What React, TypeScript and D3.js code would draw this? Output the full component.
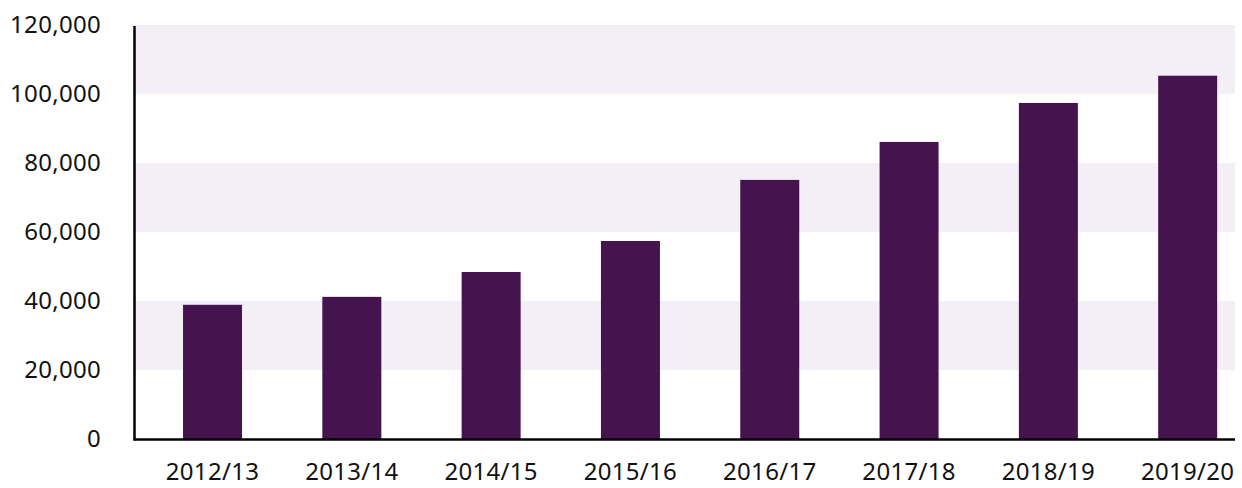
import React from "react";
import * as d3 from "d3";

const categories = ["2012/13", "2013/14", "2014/15", "2015/16", "2016/17", "2017/18", "2018/19", "2019/20"];
const values = [38900, 41200, 48400, 57400, 75100, 86100, 97400, 105300];
const yTicks = [0, 20000, 40000, 60000, 80000, 100000, 120000];

const W = 1242;
const H = 488;
const plotLeft = 135;
const plotRight = 1235;

export default function App() {
  const x = d3.scaleBand<string>().domain(categories).range([142.9, 1257.3]).paddingInner(0.5765).paddingOuter(0.288);
  const y = d3.scaleLinear().domain([0, 120000]).range([439, 25]);
  const fmt = d3.format(",");
  const bands = [];
  for (let i = 0; i < yTicks.length - 1; i++) {
    if (i % 2 === 1) bands.push([yTicks[i], yTicks[i + 1]]);
  }
  const font = "'Noto Sans', sans-serif";
  return (
    <svg width={W} height={H} style={{ position: "absolute", left: 0, top: 0 }}>
      <rect width={W} height={H} fill="#fff" />
      {bands.map(([a, b], i) => (
        <rect key={i} x={plotLeft} y={y(b)} width={plotRight - plotLeft} height={y(a) - y(b)} fill="#f4eff6" />
      ))}
      {categories.map((c, i) => (
        <rect key={c} x={x(c)} y={y(values[i])} width={x.bandwidth()} height={y(0) - y(values[i])} fill="#45144f" />
      ))}
      <line x1={plotLeft - 0.5} x2={plotLeft - 0.5} y1={26} y2={440.5} stroke="#000" strokeWidth={2.5} />
      <line x1={plotLeft - 1.5} x2={plotRight} y1={439.5} y2={439.5} stroke="#000" strokeWidth={2.5} />
      {yTicks.map((t) => (
        <text key={t} x={101} y={y(t)} dy="0.35em" textAnchor="end" fontFamily={font} fontSize={24} letterSpacing={0.3} fill="#111">
          {fmt(t)}
        </text>
      ))}
      {categories.map((c) => (
        <text key={c} x={(x(c) as number) + x.bandwidth() / 2} y={480} textAnchor="middle" fontFamily={font} fontSize={24} letterSpacing={0.3} fill="#111">
          {c}
        </text>
      ))}
    </svg>
  );
}
